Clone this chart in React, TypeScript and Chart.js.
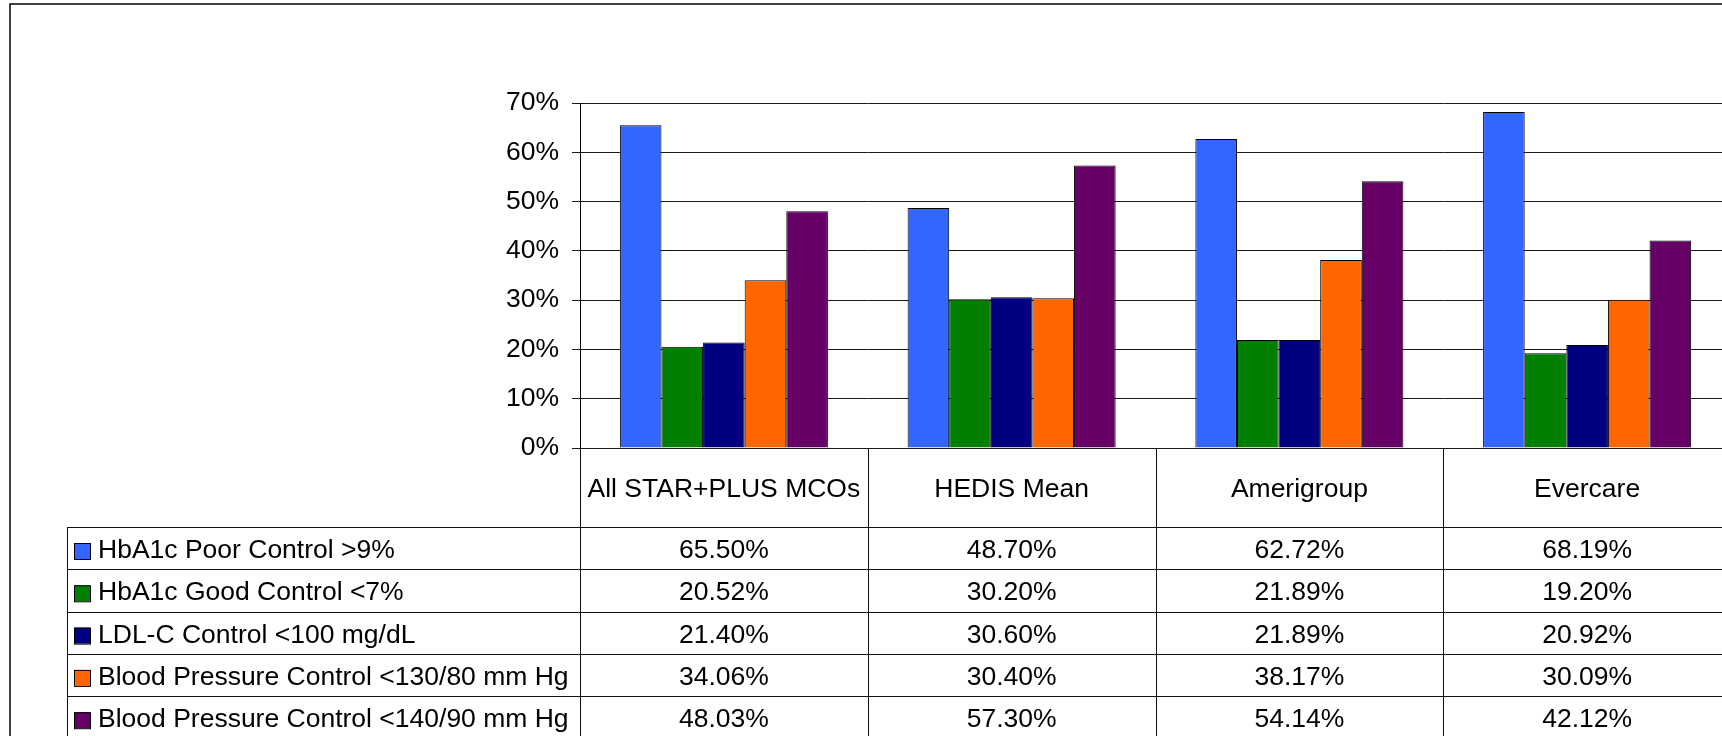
import React, { useEffect, useRef } from "react";
import { Chart, registerables } from "chart.js";

Chart.register(...registerables);

const categories = ["All STAR+PLUS MCOs", "HEDIS Mean", "Amerigroup", "Evercare"];
const seriesNames = [
  "HbA1c Poor Control >9%",
  "HbA1c Good Control <7%",
  "LDL-C Control <100 mg/dL",
  "Blood Pressure Control <130/80 mm Hg",
  "Blood Pressure Control <140/90 mm Hg",
];
const hba1cPoor = [65.5, 48.7, 62.72, 68.19];
const hba1cGood = [20.52, 30.2, 21.89, 19.2];
const ldlControl = [21.4, 30.6, 21.89, 20.92];
const bp130 = [34.06, 30.4, 38.17, 30.09];
const bp140 = [48.03, 57.3, 54.14, 42.12];
const seriesColors = ["#3366FF", "#008000", "#000080", "#FF6600", "#660066"];
const yTicks = [0, 10, 20, 30, 40, 50, 60, 70];

const FONT = "'Liberation Sans', Arial, sans-serif";

const tablePlugin = {
  id: "dataTable",
  afterDraw(chart: any) {
    const ctx = chart.ctx as CanvasRenderingContext2D;
    const area = chart.chartArea;
    const n = categories.length;
    const colW = (area.right - area.left) / n;
    const series = [hba1cPoor, hba1cGood, ldlControl, bp130, bp140];
    const legendLeft = 67;
    const headerBottom = 527;
    const rowH = 42.3;
    ctx.save();
    // outer border
    ctx.strokeStyle = "#000";
    ctx.lineWidth = 1.5;
    ctx.strokeRect(10, 4, 3000, 3000);

    ctx.lineWidth = 1;
    ctx.strokeStyle = "#111";
    for (let i = 0; i <= n; i++) {
      const x = Math.round(area.left + i * colW) + 0.5;
      ctx.beginPath();
      ctx.moveTo(x, area.bottom);
      ctx.lineTo(x, 800);
      ctx.stroke();
    }
    ctx.beginPath();
    ctx.moveTo(legendLeft + 0.5, headerBottom);
    ctx.lineTo(legendLeft + 0.5, 800);
    ctx.stroke();
    for (let r = 0; r <= series.length; r++) {
      const y = Math.round(headerBottom + r * rowH) + 0.5;
      ctx.beginPath();
      ctx.moveTo(legendLeft, y);
      ctx.lineTo(area.right, y);
      ctx.stroke();
    }
    ctx.fillStyle = "#000";
    ctx.font = `26.5px ${FONT}`;
    ctx.textAlign = "center";
    ctx.textBaseline = "alphabetic";
    for (let i = 0; i < n; i++) {
      const cx = area.left + (i + 0.5) * colW;
      ctx.fillText(categories[i], cx, 497);
    }
    for (let r = 0; r < series.length; r++) {
      const top = headerBottom + r * rowH;
      const base = top + 31;
      ctx.textAlign = "center";
      for (let i = 0; i < n; i++) {
        const cx = area.left + (i + 0.5) * colW;
        ctx.fillText(series[r][i].toFixed(2) + "%", cx, base);
      }
      ctx.fillStyle = seriesColors[r];
      ctx.fillRect(74, top + 16, 16, 16);
      ctx.strokeStyle = "#000";
      ctx.strokeRect(74.5, top + 16.5, 16, 16);
      ctx.fillStyle = "#000";
      ctx.textAlign = "left";
      ctx.fillText(seriesNames[r], 98, base);
    }
    ctx.restore();
  },
};

export default function App() {
  const ref = useRef<HTMLCanvasElement | null>(null);
  useEffect(() => {
    if (!ref.current) return;
    const series = [hba1cPoor, hba1cGood, ldlControl, bp130, bp140];
    const chart = new Chart(ref.current, {
      type: "bar",
      data: {
        labels: categories,
        datasets: series.map((d, i) => ({
          label: seriesNames[i],
          data: d,
          backgroundColor: seriesColors[i],
          borderColor: "#000",
          borderWidth: 1,
          categoryPercentage: 0.723,
          barPercentage: 1.0,
        })),
      },
      options: {
        animation: false,
        responsive: false,
        devicePixelRatio: 1,
        layout: { padding: { left: 0, top: 103, right: 29, bottom: 288 } },
        plugins: { legend: { display: false }, tooltip: { enabled: false } },
        scales: {
          x: { display: false },
          y: {
            min: 0,
            max: 70,
            afterFit: (s: any) => {
              s.width = 580;
            },
            afterBuildTicks: (s: any) => {
              s.ticks = yTicks.map((v) => ({ value: v }));
            },
            ticks: {
              stepSize: 10,
              padding: 13,
              color: "#000",
              font: { family: FONT, size: 26.5 },
              callback: (v: any) => v + "%",
            },
            grid: { color: "#1a1a1a", lineWidth: 1, tickLength: 8, drawTicks: true },
            border: { display: true, color: "#000", width: 1 },
          },
        },
      },
      plugins: [tablePlugin],
    });
    return () => chart.destroy();
  }, []);
  return (
    <div
      style={{
        position: "fixed",
        left: 0,
        top: 0,
        width: 1722,
        height: 736,
        overflow: "hidden",
        background: "#fff",
      }}
    >
      <canvas ref={ref} width={1760} height={736} style={{ width: 1760, height: 736, display: "block" }} />
    </div>
  );
}
